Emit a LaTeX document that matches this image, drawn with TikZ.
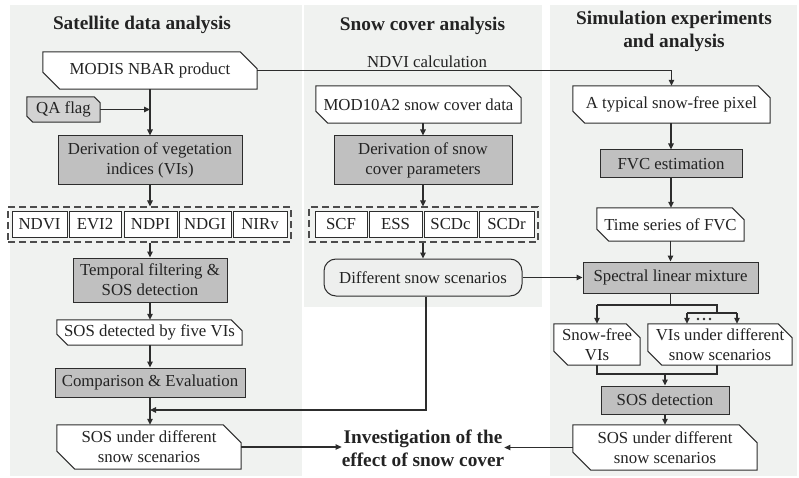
\documentclass[tikz,border=0pt]{standalone}
\usepackage{fontspec}
\setmainfont{Liberation Serif}
\usetikzlibrary{arrows.meta}
\definecolor{pbg}{RGB}{240,242,240}
\definecolor{lc}{RGB}{45,45,45}
\definecolor{pf}{RGB}{192,192,192}
\definecolor{qf}{RGB}{210,210,210}
\definecolor{tc}{RGB}{35,35,35}
\definecolor{rf}{RGB}{238,239,238}
\pgfdeclarelayer{bgp}
\pgfdeclarelayer{shp}
\pgfsetlayers{bgp,shp,main}
\newcommand\datashape[3][white]{%
\begin{pgfonlayer}{shp}
\path[draw=lc, line width=1pt, fill=#1] (#2.north west) -- ([xshift=-#3pt]#2.north east) -- ([yshift=-#3pt]#2.north east) -- (#2.south east) -- ([xshift=#3pt]#2.south west) -- ([yshift=#3pt]#2.south west) -- cycle;
\end{pgfonlayer}}
\tikzset{
 txt/.style={font=\fontsize{16.8}{20}\selectfont, text=tc, inner sep=0pt, align=center},
 ttl/.style={font=\fontsize{19.3}{23}\selectfont\bfseries, text=tc, align=center, inner sep=0pt},
 proc/.style={txt, draw=lc, fill=pf, line width=1pt},
 small/.style={txt, draw=lc, fill=white, line width=0.9pt, minimum height=26pt},
 grp/.style={draw=lc!85, line width=1.1pt, dash pattern=on 7pt off 4pt, inner sep=0pt},
 arr/.style={draw=lc, line width=1.1pt, -{Triangle[length=6pt,width=5.5pt]}},
 ln/.style={draw=lc, line width=1.1pt},
}
\begin{document}
\begin{tikzpicture}[x=1pt,y=-1pt]
\useasboundingbox (0,0) rectangle (799,478);
\begin{pgfonlayer}{bgp}
\fill[pbg] (10,5) rectangle (302,476);
\fill[pbg] (304,5) rectangle (542,307);
\fill[pbg] (550,5) rectangle (797,476);
\end{pgfonlayer}

% titles
\node[ttl] (tl) at (142,25) {Satellite data analysis};
\node[ttl] (tm) at (422.5,26) {Snow cover analysis};
\node[ttl] (tr) at (674,31) {Simulation experiments\\and analysis};

% left panel
\node[txt, minimum width=214pt, minimum height=37pt] (modis) at (150,70.5) {MODIS NBAR product};
\datashape{modis}{17}
\node[txt, minimum width=73pt, minimum height=25pt] (qa) at (63.5,109.5) {QA flag};
\datashape[qf]{qa}{6}
\node[proc, minimum width=184pt, minimum height=49pt] (dvi) at (150,160.5) {Derivation of vegetation\\indices (VIs)};
\node[grp, minimum width=283pt, minimum height=35pt] (vgrp) at (149.5,224.5) {};
\node[small, minimum width=55pt] (ndvi) at (39.5,224) {NDVI};
\node[small, minimum width=52pt] (evi) at (95,224) {EVI2};
\node[small, minimum width=53pt] (ndpi) at (150.5,224) {NDPI};
\node[small, minimum width=52pt] (ndgi) at (205,224) {NDGI};
\node[small, minimum width=54pt] (nirv) at (260,224) {NIRv};
\node[proc, minimum width=154pt, minimum height=44pt] (temp) at (150,280) {Temporal filtering \&\\SOS detection};
\node[txt, minimum width=185pt, minimum height=25pt] (sosd) at (149.5,332.5) {SOS detected by five VIs};
\datashape{sosd}{11}
\node[proc, minimum width=190pt, minimum height=29pt] (comp) at (150,382.5) {Comparison \& Evaluation};
\node[txt, minimum width=184pt, minimum height=44pt] (sosl) at (149,447) {SOS under different\\snow scenarios};
\datashape{sosl}{18}

% middle panel
\node[txt] (ndc) at (427,62) {NDVI calculation};
\node[txt, minimum width=205pt, minimum height=37pt] (mod10) at (418.5,104.5) {MOD10A2 snow cover data};
\datashape{mod10}{12}
\node[proc, minimum width=178pt, minimum height=49pt] (dsp) at (423,160.5) {Derivation of snow\\cover parameters};
\node[grp, minimum width=229pt, minimum height=35pt] (sgrp) at (423.5,224.5) {};
\node[small, minimum width=52pt] (scf) at (341,224) {SCF};
\node[small, minimum width=53pt] (ess) at (395.5,224) {ESS};
\node[small, minimum width=53pt] (scdc) at (450.5,224) {SCDc};
\node[small, minimum width=55pt] (scdr) at (506.5,224) {SCDr};
\node[txt, draw=lc, fill=rf, line width=1pt, rounded corners=12pt, minimum width=198pt, minimum height=37pt] (dss) at (423,277.5) {Different snow scenarios};
\node[ttl] (inv) at (423,448) {Investigation of the\\effect of snow cover};

% right panel
\node[txt, minimum width=197pt, minimum height=37pt] (atp) at (671.5,104.5) {A typical snow-free pixel};
\datashape{atp}{12}
\node[proc, minimum width=142pt, minimum height=28pt] (fvc) at (671,164) {FVC estimation};
\node[txt, minimum width=147pt, minimum height=33pt] (tsf) at (670.5,224.5) {Time series of FVC};
\datashape{tsf}{12}
\node[proc, minimum width=175pt, minimum height=31pt] (slm) at (670.5,277.5) {Spectral linear mixture};
\node[txt, minimum width=86pt, minimum height=41pt] (snf) at (597,344.5) {Snow-free\\VIs};
\datashape{snf}{14}
\node[txt, minimum width=144pt, minimum height=41pt] (vud) at (720,344.5) {VIs under different\\snow scenarios};
\datashape{vud}{14}
\node[proc, minimum width=128pt, minimum height=28pt] (sdet) at (665,400) {SOS detection};
\node[txt, minimum width=184pt, minimum height=45pt] (sosr) at (665,447.5) {SOS under different\\snow scenarios};
\datashape{sosr}{18}

% coordinates
\coordinate (j1) at (150,410);
\coordinate (bL) at (597,305);
\coordinate (bR) at (717,305);
\coordinate (bR2) at (717,313);
\coordinate (dL) at (687,313);
\coordinate (dR) at (737,313);
\coordinate (m2) at (717,374);

% left connectors
\draw[arr] (modis.south) -- (dvi.north);
\draw[arr] (qa.east) -- (qa.east -| modis.south);
\draw[arr] (dvi.south) -- (dvi.south |- vgrp.north);
\draw[arr] (temp.north |- vgrp.south) -- (temp.north);
\draw[arr] (temp.south) -- (temp.south |- sosd.north);
\draw[arr] (comp.north |- sosd.south) -- (comp.north);
\draw[arr] (comp.south) -- (comp.south |- sosl.north);
\draw[arr] (sosl.east) -- (sosl.east -| inv.west);

% middle connectors
\draw[arr] (modis.east) -| (atp.north);
\draw[arr] (mod10.south -| dsp.north) -- (dsp.north);
\draw[arr] (dsp.south) -- (dsp.south |- sgrp.north);
\draw[arr] (dss.north |- sgrp.south) -- (dss.north);
\draw[arr] (dss.east) -- (slm.west);
\draw[arr] ([xshift=3pt]dss.south) |- (j1);

% right connectors
\draw[arr] (fvc.north |- atp.south) -- (fvc.north);
\draw[arr] (fvc.south) -- (fvc.south |- tsf.north);
\draw[arr] (slm.north |- tsf.south) -- (slm.north);
\draw[ln] (slm.south) -- (slm.south |- bL);
\draw[ln] (bL) -- (bR) -- (bR2);
\draw[arr] (bL) -- (snf.north);
\draw[ln] (dL) -- (dR);
\draw[arr] (dL) -- (dL |- vud.north);
\draw[arr] (dR) -- (dR |- vud.north);
\fill[lc] (698,319) circle (1.3pt) (704,319) circle (1.3pt) (710,319) circle (1.3pt);
\draw[ln] (snf.south) |- (m2) -- (m2 |- vud.south);
\draw[arr] (sdet.north |- m2) -- (sdet.north);
\draw[arr] (sdet.south) -- (sdet.south |- sosr.north);
\draw[arr] (sosr.west) -- (sosr.west -| inv.east);
\end{tikzpicture}
\end{document}
